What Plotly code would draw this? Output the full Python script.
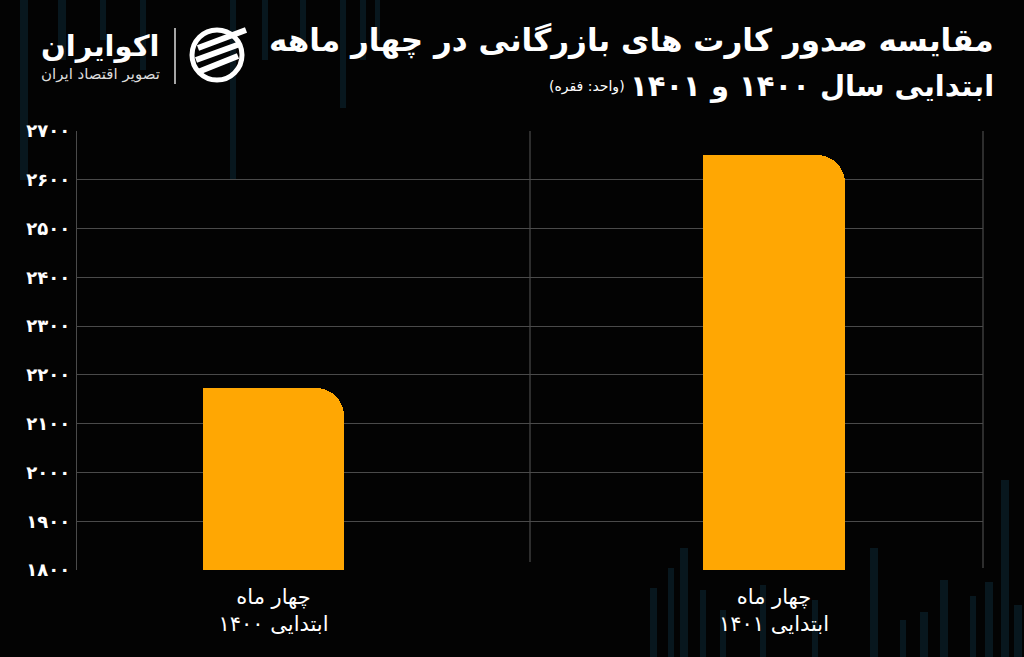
import plotly.graph_objects as go

# ---- data ----
categories = ["چهار ماه<br>ابتدایی ۱۴۰۰", "چهار ماه<br>ابتدایی ۱۴۰۱"]
values = [2173, 2651]
y_ticks = [1800, 1900, 2000, 2100, 2200, 2300, 2400, 2500, 2600, 2700]
y_tick_labels = ["۱۸۰۰", "۱۹۰۰", "۲۰۰۰", "۲۱۰۰", "۲۲۰۰", "۲۳۰۰", "۲۴۰۰", "۲۵۰۰", "۲۶۰۰", "۲۷۰۰"]
title_line1 = "مقایسه صدور کارت های بازرگانی در چهار ماهه"
title_line2 = "ابتدایی سال ۱۴۰۰ و ۱۴۰۱"
unit_text = "(واحد: فقره)"
brand = "اکوایران"
brand_sub = "تصویر اقتصاد ایران"

W, H = 1024, 657
L, R, T, B = 77, 983, 131, 570
FONT = "DejaVu Sans"
ORANGE = "#FFA703"
GRID = "#4a4a4a"


def px(x):
    return (x - L) / (R - L)


def py(y):
    return (B - y) / (B - T)


xpos = list(range(len(categories)))
bw = 0.282

fig = go.Figure()
fig.add_trace(go.Bar(x=xpos, y=values, width=bw, marker=dict(color=ORANGE, cornerradius=28, line_width=0),
                     hoverinfo="y", showlegend=False))
fig.add_trace(go.Bar(x=xpos, y=values, width=bw / 2, offset=-bw / 2, marker=dict(color=ORANGE, line_width=0),
                     hoverinfo="skip", showlegend=False))

shapes = []
# decorative faint background stripes
deco = [
    (20, 28, 0, 180), (58, 66, 0, 60), (100, 106, 0, 40), (140, 146, 0, 70),
    (230, 236, 0, 180), (262, 268, 0, 60), (300, 306, 0, 45), (340, 346, 0, 108),
    (360, 366, 0, 60), (375, 380, 0, 40),
    (650, 657, 588, 657), (668, 674, 568, 657), (680, 688, 548, 657),
    (700, 706, 590, 657), (720, 726, 610, 657), (760, 766, 585, 657),
    (812, 818, 600, 657), (870, 878, 548, 657), (900, 906, 620, 657),
    (920, 928, 612, 657), (940, 948, 580, 657), (970, 976, 596, 657),
    (985, 993, 582, 657), (1001, 1009, 480, 657), (1014, 1022, 605, 657),
]
for x0, x1, y0, y1 in deco:
    shapes.append(dict(type="rect", xref="paper", yref="paper", x0=px(x0), x1=px(x1), y0=py(y1), y1=py(y0),
                       fillcolor="#08171e", line_width=0, layer="below"))
# category divider and right border
shapes.append(dict(type="line", xref="paper", yref="paper", x0=0.5, x1=0.5, y0=py(562), y1=1,
                   line=dict(color=GRID, width=1.2), layer="below"))
shapes.append(dict(type="line", xref="paper", yref="paper", x0=1, x1=1, y0=py(568), y1=1,
                   line=dict(color=GRID, width=1.2), layer="below"))
# logo separator
shapes.append(dict(type="line", xref="paper", yref="paper", x0=px(175), x1=px(175), y0=py(84), y1=py(28),
                   line=dict(color="#dddddd", width=1.5)))
# logo icon: ring + strokes
shapes.append(dict(type="circle", xref="paper", yref="paper", x0=px(192), x1=px(242), y0=py(80), y1=py(30),
                   line=dict(color="white", width=5)))
for (a, b, c, d) in [(198, 48, 246, 30), (196, 60, 240, 44), (198, 72, 238, 56)]:
    shapes.append(dict(type="line", xref="paper", yref="paper", x0=px(a), x1=px(c), y0=py(b), y1=py(d),
                       line=dict(color="white", width=6)))

annotations = [
    dict(text="<b>" + title_line1 + "</b>", x=px(996), y=py(40), xref="paper", yref="paper",
         xanchor="right", yanchor="middle", showarrow=False, font=dict(family=FONT, size=31, color="white")),
    dict(text="<b>" + title_line2 + "</b>", x=px(996), y=py(86), xref="paper", yref="paper",
         xanchor="right", yanchor="middle", showarrow=False, font=dict(family=FONT, size=29, color="white")),
    dict(text=unit_text, x=px(627), y=py(86), xref="paper", yref="paper",
         xanchor="right", yanchor="middle", showarrow=False, font=dict(family=FONT, size=14, color="white")),
    dict(text="<b>" + brand + "</b>", x=px(162), y=py(46), xref="paper", yref="paper",
         xanchor="right", yanchor="middle", showarrow=False, font=dict(family=FONT, size=29, color="white")),
    dict(text=brand_sub, x=px(162), y=py(74), xref="paper", yref="paper",
         xanchor="right", yanchor="middle", showarrow=False, font=dict(family=FONT, size=15, color="#dddddd")),
]

fig.update_layout(
    width=W, height=H,
    margin=dict(l=L, r=W - R, t=T, b=H - B, pad=0),
    paper_bgcolor="#030303", plot_bgcolor="rgba(0,0,0,0)",
    barmode="overlay", bargap=0,
    shapes=shapes, annotations=annotations,
    xaxis=dict(range=[-(273.5 - L) / 500.5, 1 + (R - 774) / 500.5], tickvals=xpos, ticktext=categories,
               showgrid=False, zeroline=False, showline=False, ticks="", ticklabelstandoff=12,
               tickfont=dict(family=FONT, size=21, color="white"), fixedrange=True),
    yaxis=dict(range=[1800, 2700], tickvals=y_ticks, ticktext=y_tick_labels, showgrid=True,
               gridcolor=GRID, gridwidth=1, zeroline=False, showline=True, linecolor=GRID, linewidth=1.2,
               ticks="", ticklabelstandoff=2,
               tickfont=dict(family=FONT, size=18, color="white", weight="bold"), fixedrange=True),
    font=dict(family=FONT, color="white"),
)

fig.write_html("out.html", config={"displayModeBar": False},
               post_script="document.body.style.margin='0';document.body.style.overflow='hidden';"
                           "document.body.style.background='#030303';")
